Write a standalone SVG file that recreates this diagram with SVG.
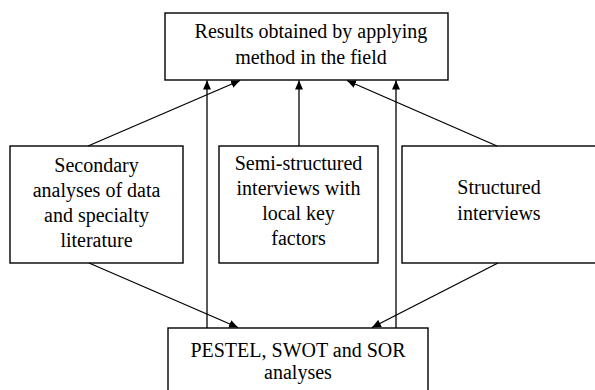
<svg xmlns="http://www.w3.org/2000/svg" width="595" height="390" viewBox="0 0 595 390">
  <style>
    .box { fill: #ffffff; stroke: #000000; stroke-width: 1.4; }
    .lbl { font-family: "Liberation Serif", "Times New Roman", serif; font-size: 20px; fill: #000000; text-anchor: middle; }
    .edge { stroke: #000000; stroke-width: 1.3; fill: none; marker-end: url(#arrow); }
  </style>
  <defs>
    <marker id="arrow" markerUnits="userSpaceOnUse" markerWidth="10" markerHeight="8" refX="9" refY="4" orient="auto">
      <path d="M0,0 L9,4 L0,8 Z" fill="#000000"/>
    </marker>
  </defs>
  <rect x="0" y="0" width="595" height="390" fill="#ffffff"/>

  <g id="results">
    <rect class="box" x="165" y="13" width="283" height="67"/>
    <text class="lbl" x="311" y="38">Results obtained by applying</text>
    <text class="lbl" x="311" y="64">method in the field</text>
  </g>

  <g id="secondary">
    <rect class="box" x="10" y="146" width="173" height="117"/>
    <text class="lbl" x="96.5" y="172">Secondary</text>
    <text class="lbl" x="96.5" y="197">analyses of data</text>
    <text class="lbl" x="96.5" y="222">and specialty</text>
    <text class="lbl" x="96.5" y="247">literature</text>
  </g>

  <g id="semistructured">
    <rect class="box" x="219" y="146" width="159" height="117"/>
    <text class="lbl" x="298.5" y="170">Semi-structured</text>
    <text class="lbl" x="298.5" y="195">interviews with</text>
    <text class="lbl" x="298.5" y="220">local key</text>
    <text class="lbl" x="298.5" y="245">factors</text>
  </g>

  <g id="structured">
    <rect class="box" x="402" y="146" width="196" height="117"/>
    <text class="lbl" x="499" y="194">Structured</text>
    <text class="lbl" x="499" y="220">interviews</text>
  </g>

  <g id="pestel">
    <rect class="box" x="168" y="328" width="260" height="66"/>
    <text class="lbl" x="298" y="357">PESTEL, SWOT and SOR</text>
    <text class="lbl" x="298" y="379">analyses</text>
  </g>

  <g id="connectors">
    <line class="edge" x1="88" y1="146" x2="240" y2="80.5"/>
    <line class="edge" x1="497" y1="146" x2="347" y2="80.5"/>
    <line class="edge" x1="299" y1="146" x2="299" y2="80.5"/>
    <line class="edge" x1="207" y1="328" x2="207" y2="80.5"/>
    <line class="edge" x1="396" y1="328" x2="396" y2="80.5"/>
    <line class="edge" x1="89" y1="263" x2="238" y2="327.5"/>
    <line class="edge" x1="498" y1="263" x2="372" y2="327.5"/>
  </g>
</svg>
